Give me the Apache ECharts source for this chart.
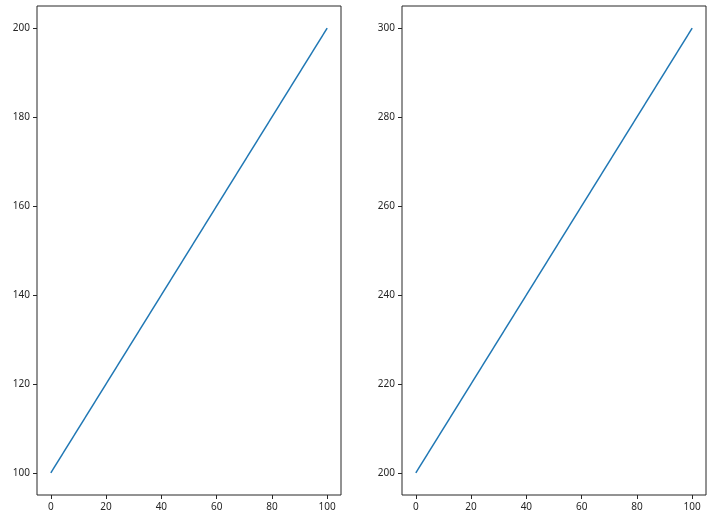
<!DOCTYPE html>
<html><head><meta charset="utf-8">
<script src="https://cdn.jsdelivr.net/npm/echarts@6/dist/echarts.min.js"></script>
<style>html,body{margin:0;padding:0;background:#fff}#c{width:721px;height:519px}</style>
</head><body><div id="c"></div>
<script>
const xValues = [0, 100];
const leftValues = [100, 200];
const rightValues = [200, 300];
const xTicks = [0, 20, 40, 60, 80, 100];
const leftTicks = [100, 120, 140, 160, 180, 200];
const rightTicks = [200, 220, 240, 260, 280, 300];

const font = {fontFamily: 'Noto Sans', fontSize: 10, color: '#262626'};
function xAxis(gi) {
  return {type: 'value', gridIndex: gi, min: -5, max: 105,
    axisLine: {show: false, onZero: false},
    axisTick: {show: true, inside: false, length: 4, customValues: xTicks, lineStyle: {color: '#262626'}},
    axisLabel: Object.assign({customValues: xTicks, margin: 7}, font),
    splitLine: {show: false}};
}
function yAxis(gi, ticks) {
  const lo = ticks[0], hi = ticks[ticks.length - 1], pad = (hi - lo) * 0.05;
  return {type: 'value', gridIndex: gi, min: lo - pad, max: hi + pad,
    axisLine: {show: false, onZero: false},
    axisTick: {show: true, inside: false, length: 4, customValues: ticks, lineStyle: {color: '#262626'}},
    axisLabel: Object.assign({customValues: ticks, margin: 7}, font),
    splitLine: {show: false}};
}
const chart = echarts.init(document.getElementById('c'), null, {renderer: 'canvas'});
chart.setOption({
  animation: false,
  backgroundColor: '#fff',
  grid: [
    {left: 37, top: 6, width: 304, height: 489, show: true, borderColor: '#262626', borderWidth: 1, backgroundColor: 'transparent'},
    {left: 402, top: 6, width: 304, height: 489, show: true, borderColor: '#262626', borderWidth: 1, backgroundColor: 'transparent'}
  ],
  xAxis: [xAxis(0), xAxis(1)],
  yAxis: [yAxis(0, leftTicks), yAxis(1, rightTicks)],
  series: [
    {type: 'line', xAxisIndex: 0, yAxisIndex: 0, symbol: 'none', data: xValues.map((x, i) => [x, leftValues[i]]), lineStyle: {color: '#1f77b4', width: 1.5}},
    {type: 'line', xAxisIndex: 1, yAxisIndex: 1, symbol: 'none', data: xValues.map((x, i) => [x, rightValues[i]]), lineStyle: {color: '#1f77b4', width: 1.5}}
  ]
});
</script></body></html>
